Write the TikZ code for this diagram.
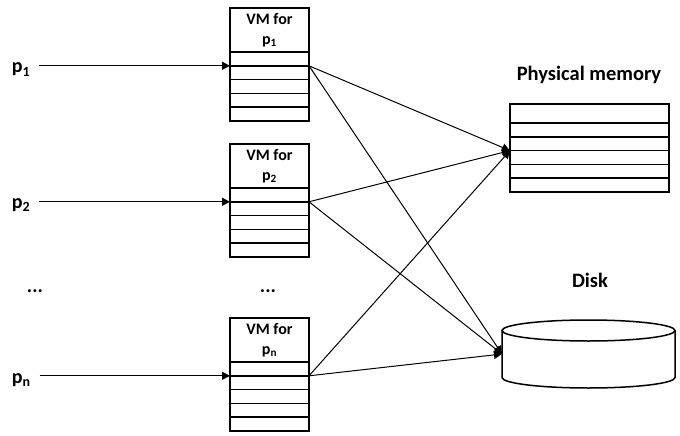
\documentclass[tikz,border=0pt]{standalone}
\usepackage{fontspec}
\setmainfont{Carlito}
\usetikzlibrary{arrows.meta}
\begin{document}
\begin{tikzpicture}[x=1pt,y=-1pt,
  every node/.style={inner sep=0pt, outer sep=0pt},
  lbl/.style={font=\fontsize{20}{24}\selectfont\bfseries},
  ttl/.style={font=\fontsize{20.5}{24}\selectfont\bfseries},
  box/.style={draw, line width=1.5pt},
  vmhead/.style={box, minimum width=79pt, minimum height=44pt, align=center, font=\fontsize{16}{20}\selectfont\bfseries},
  vmrow/.style={box, minimum width=79pt, minimum height=13.8pt},
  memrow/.style={box, minimum width=159pt, minimum height=13.8pt},
  link/.style={line width=1pt, -{Triangle[length=8pt,width=8pt]}},
]
\useasboundingbox (0,0) rectangle (680,436);

% VM tables
\node[vmhead, anchor=north west] (vm1) at (230,8) {VM for\\p\textsubscript{1}};
\node[vmhead, anchor=north west] (vm2) at (230,144) {VM for\\p\textsubscript{2}};
\node[vmhead, anchor=north west] (vm3) at (230,318) {VM for\\p\textsubscript{n}};
\foreach \v in {vm1,vm2,vm3}{
  \node[vmrow, anchor=north] (\v r1) at (\v.south) {};
  \foreach \i [count=\j from 2] in {1,...,4}
    \node[vmrow, anchor=north] (\v r\j) at (\v r\i.south) {};
}

% process labels
\node[lbl, anchor=base west] (p1) at (12,73) {p\textsubscript{1}};
\node[lbl, anchor=base west] (p2) at (12,208) {p\textsubscript{2}};
\node[lbl, anchor=base west] (p3) at (12,383) {p\textsubscript{n}};
\node[lbl, anchor=base] (dots1) at (35,292) {...};
\node[lbl, anchor=base] (dots2) at (268,292) {...};

\draw[link] ([xshift=9pt]p1.east |- vm1r1.south west) -- (vm1r1.south west);
\draw[link] ([xshift=9pt]p2.east |- vm2r1.south west) -- (vm2r1.south west);
\draw[link] ([xshift=9pt]p3.east |- vm3r1.south west) -- (vm3r1.south west);

% physical memory
\node[ttl, anchor=base] (memlbl) at (589,81) {Physical memory};
\node[memrow, minimum height=19pt, anchor=north west] (m0) at (510,104) {};
\foreach \i [count=\j from 1] in {0,...,4}
  \node[memrow, anchor=north] (m\j) at (m\i.south) {};

% disk
\node[ttl, anchor=base] (disklbl) at (590,287) {Disk};
\node[minimum width=173pt, minimum height=68pt] (disk) at (588.5,354) {};
\draw[box] (588.5,330.5) ellipse [x radius=86.5pt, y radius=10.5pt];
\draw[box] (502,330.5) -- (502,377.5)
  arc[start angle=180, end angle=360, x radius=86.5pt, y radius=10.5pt]
  -- (675,330.5);

% mappings
\foreach \v in {vm1,vm2,vm3}{
  \draw[link] (\v r1.south east) -- (m2.south west);
  \draw[link] (\v r1.south east) -- (disk.west);
}
\end{tikzpicture}
\end{document}
